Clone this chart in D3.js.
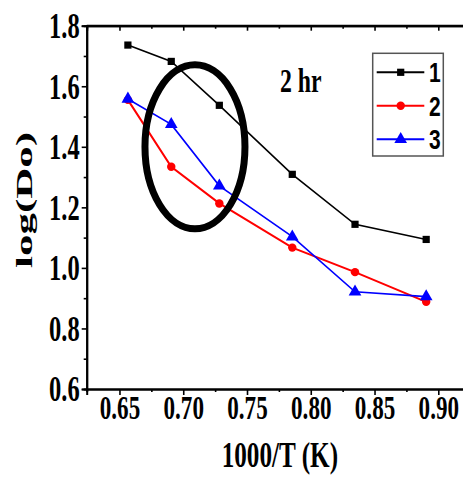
<!DOCTYPE html>
<html>
<head>
<meta charset="utf-8">
<script src="https://cdn.jsdelivr.net/npm/d3@7"></script>
<style>
  html, body { margin: 0; padding: 0; background: #fff; overflow: hidden; }
  svg { display: block; }
</style>
</head>
<body>
<script>
const width = 463;
const height = 477;

// 1000/T values (x) and log(Do) for the three series
const invT = [0.6566, 0.6906, 0.7283, 0.7855, 0.8347, 0.8905];
const series1 = [1.736, 1.682, 1.537, 1.309, 1.144, 1.094];
const series2 = [1.555, 1.334, 1.213, 1.067, 0.986, 0.888];
const series3 = [1.558, 1.474, 1.271, 1.103, 0.921, 0.905];
const seriesNames = ["1", "2", "3"];
const xTicks = [0.65, 0.7, 0.75, 0.8, 0.85, 0.9];
const yTicks = [0.6, 0.8, 1.0, 1.2, 1.4, 1.6, 1.8];
const xMinor = [0.675, 0.725, 0.775, 0.825, 0.875];
const yMinor = [0.7, 0.9, 1.1, 1.3, 1.5, 1.7];

const colors = ["#000000", "#ff0000", "#0000ff"];
const shapes = [d3.symbolSquare, d3.symbolCircle, d3.symbolTriangle];
const symbolSizes = [52, 56, 70];

const serif = "'Liberation Serif', 'Times New Roman', serif";
const sans = "'Liberation Sans', Arial, sans-serif";

const svg = d3
  .select("body")
  .append("svg")
  .attr("width", width)
  .attr("height", height);

const xScale = d3.scaleLinear().domain([0.6243, 0.92]).range([86.7, 463.8]);
const yScale = d3.scaleLinear().domain([0.6, 1.8]).range([389, 25.7]);

// Minor ticks
const minorX = d3.axisBottom(xScale).tickValues(xMinor).tickSize(3).tickFormat("");
const minorY = d3.axisLeft(yScale).tickValues(yMinor).tickSize(3).tickFormat("");
const minorTop = d3.axisBottom(xScale).tickValues(xMinor).tickSize(3).tickFormat("");

svg.append("g").attr("transform", `translate(0, ${yScale(0.6)})`).call(minorX);
svg.append("g").attr("transform", `translate(${xScale(0.6243)}, 0)`).call(minorY);
svg.append("g").attr("transform", `translate(0, ${yScale(1.8)})`).call(minorTop);

// Top axis with inward ticks
const topAxis = d3.axisBottom(xScale).tickValues(xTicks).tickSize(5).tickFormat("");
svg.append("g").attr("transform", `translate(0, ${yScale(1.8)})`).call(topAxis);

// Bottom axis
const xAxis = d3
  .axisBottom(xScale)
  .tickValues(xTicks)
  .tickSize(6)
  .tickFormat(d3.format(".2f"));
const gx = svg
  .append("g")
  .attr("id", "x-axis")
  .attr("transform", `translate(0, ${yScale(0.6)})`)
  .call(xAxis);

// Left axis
const yAxis = d3
  .axisLeft(yScale)
  .tickValues(yTicks)
  .tickSize(5)
  .tickFormat(d3.format(".1f"));
const gy = svg
  .append("g")
  .attr("id", "y-axis")
  .attr("transform", `translate(${xScale(0.6243)}, 0)`)
  .call(yAxis);

svg.selectAll(".domain").attr("stroke-width", 2);
svg.selectAll(".tick line").attr("stroke-width", 1.6);

gx.selectAll(".tick text")
  .attr("font-family", serif)
  .attr("font-weight", "bold")
  .attr("font-size", 34)
  .attr("fill", "#000")
  .attr("y", 6)
  .attr("dy", "0.71em")
  .attr("transform", "scale(0.68,1)");

gy.selectAll(".tick text")
  .attr("font-family", serif)
  .attr("font-weight", "bold")
  .attr("font-size", 35)
  .attr("fill", "#000")
  .attr("x", -7 / 0.7)
  .attr("dy", "0.34em")
  .attr("transform", "scale(0.7,1)");

// Frame top line
svg
  .append("line")
  .attr("x1", xScale(0.6243))
  .attr("x2", width)
  .attr("y1", yScale(1.8))
  .attr("y2", yScale(1.8))
  .attr("stroke", "#000")
  .attr("stroke-width", 2);

// Axis titles
svg
  .append("text")
  .attr("transform", `translate(${(xScale(0.6243) + 463) / 2 + 5}, 467) scale(0.72,1)`)
  .attr("text-anchor", "middle")
  .attr("font-family", serif)
  .attr("font-weight", "bold")
  .attr("font-size", 35)
  .text("1000/T (K)");

svg
  .append("text")
  .attr("transform", "translate(32, 200) scale(0.56,1) rotate(-90)")
  .attr("text-anchor", "middle")
  .attr("font-family", serif)
  .attr("font-weight", "bold")
  .attr("font-size", 43)
  .text("log(Do)");

// Series
const allSeries = [series1, series2, series3];
const line = d3
  .line()
  .x((d, i) => xScale(invT[i]))
  .y((d) => yScale(d));

allSeries.forEach((values, s) => {
  svg
    .append("path")
    .datum(values)
    .attr("fill", "none")
    .attr("stroke", colors[s])
    .attr("stroke-width", s === 1 ? 2 : 1.6)
    .attr("d", line);

  svg
    .append("g")
    .selectAll("path")
    .data(values)
    .enter()
    .append("path")
    .attr("transform", (d, i) => `translate(${xScale(invT[i])}, ${yScale(d)})`)
    .attr("d", d3.symbol().type(shapes[s]).size(symbolSizes[s]))
    .attr("fill", colors[s]);
});

// Highlight ellipse
svg
  .append("ellipse")
  .attr("cx", xScale(0.7092))
  .attr("cy", yScale(1.4))
  .attr("rx", 50)
  .attr("ry", 82)
  .attr("fill", "none")
  .attr("stroke", "#000")
  .attr("stroke-width", 7);

// Annotation
svg
  .append("text")
  .attr("transform", "translate(280, 92) scale(0.7,1)")
  .attr("font-family", serif)
  .attr("font-weight", "bold")
  .attr("font-size", 34)
  .text("2 hr");

// Legend
const legend = svg.append("g").attr("id", "legend");
legend
  .append("rect")
  .attr("x", 372.7)
  .attr("y", 53.3)
  .attr("width", 70.6)
  .attr("height", 102.7)
  .attr("fill", "#fff")
  .attr("stroke", "#555")
  .attr("stroke-width", 1.5);

const rowY = [72.3, 105.7, 139.3];
seriesNames.forEach((name, s) => {
  const g = legend.append("g").attr("transform", `translate(0, ${rowY[s]})`);
  g.append("line")
    .attr("x1", 376.7)
    .attr("x2", 424.3)
    .attr("stroke", colors[s])
    .attr("stroke-width", 2);
  g.append("path")
    .attr("transform", "translate(400.7, 0)")
    .attr("d", d3.symbol().type(shapes[s]).size(symbolSizes[s]))
    .attr("fill", colors[s]);
  g.append("text")
    .attr("transform", "translate(429, 10) scale(0.75,1)")
    .attr("font-family", sans)
    .attr("font-weight", "bold")
    .attr("font-size", 28)
    .text(name);
});
</script>
</body>
</html>
